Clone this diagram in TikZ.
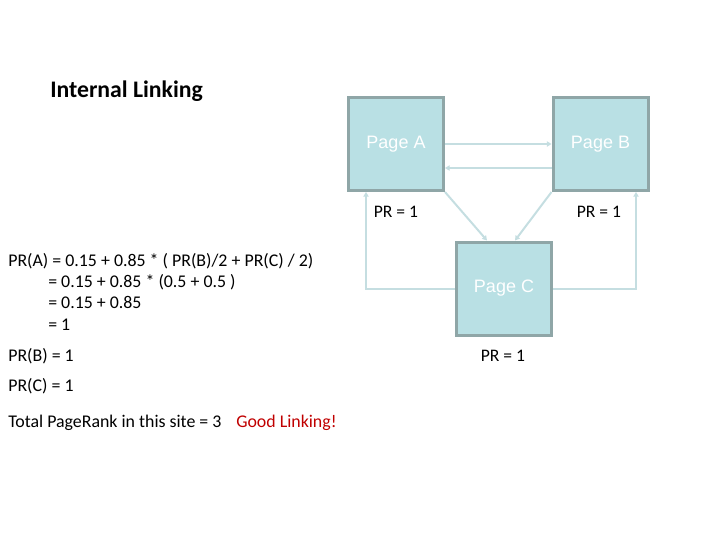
\documentclass[tikz,border=0pt]{standalone}
\usepackage{fontspec}
\setmainfont{Carlito}
\newfontfamily\arialfont{Liberation Sans}
\usetikzlibrary{arrows.meta,calc}
\definecolor{boxfill}{HTML}{B9E0E4}
\definecolor{boxedge}{HTML}{8FA6A7}
\definecolor{linkc}{HTML}{C5DEE1}
\definecolor{goodred}{HTML}{C00000}
\begin{document}
\begin{tikzpicture}[x=0.75pt,y=-0.75pt,
  pagebox/.style={draw=boxedge,line width=2.25pt,fill=boxfill,minimum width=71.25pt,minimum height=69.75pt,inner sep=0pt,text=white,font=\arialfont\fontsize{13.5}{16}\selectfont},
  link/.style={draw=linkc,line width=1.5pt,-{Triangle[length=3.5pt,width=4pt]}},
  prlabel/.style={font=\fontsize{13.2}{15}\selectfont,inner sep=0pt},
  eqline/.style={anchor=base west,font=\fontsize{13.4}{15}\selectfont,inner sep=0pt}]
\useasboundingbox (0,0) rectangle (720,540);
\node[anchor=base west,inner sep=0pt,font=\bfseries\fontsize{17.8}{20}\selectfont] (title) at (50,97) {Internal Linking};
\node[pagebox] (A) at (396,144) {Page A};
\node[pagebox] (B) at (600.5,144) {Page B};
\node[pagebox] (C) at (504,288.5) {Page C};
\node[prlabel] (prA) at (396,212) {PR = 1};
\node[prlabel] (prB) at (599,212) {PR = 1};
\node[prlabel] (prC) at (503,356) {PR = 1};
\draw[link] (A.east) -- (B.west);
\draw[link] ($(B.west)+(0,24)$) -- ($(A.east)+(0,24)$);
\draw[link] (A.south east) -- ($(C.north)+(-17,0)$);
\draw[link] (B.south west) -- ($(C.north)+(11,0)$);
\draw[link] (C.west) -| ($(A.south)+(-30,0)$);
\draw[link] (C.east) -| ($(B.south)+(35.5,0)$);
\node[eqline] (e1) at (8,266.5) {PR(A) = 0.15 + 0.85 * ( PR(B)/2 + PR(C) / 2)};
\node[eqline] (e2) at (48,287.5) {= 0.15 + 0.85 * (0.5 + 0.5 )};
\node[eqline] (e3) at (48,308.5) {= 0.15 + 0.85};
\node[eqline] (e4) at (48,330) {= 1};
\node[eqline] (e5) at (8,361.5) {PR(B) = 1};
\node[eqline] (e6) at (8,391.5) {PR(C) = 1};
\node[eqline] (e7) at (8,427.5) {Total PageRank in this site = 3};
\node[eqline,text=goodred] (e8) at (236,427.5) {Good Linking!};
\end{tikzpicture}
\end{document}
